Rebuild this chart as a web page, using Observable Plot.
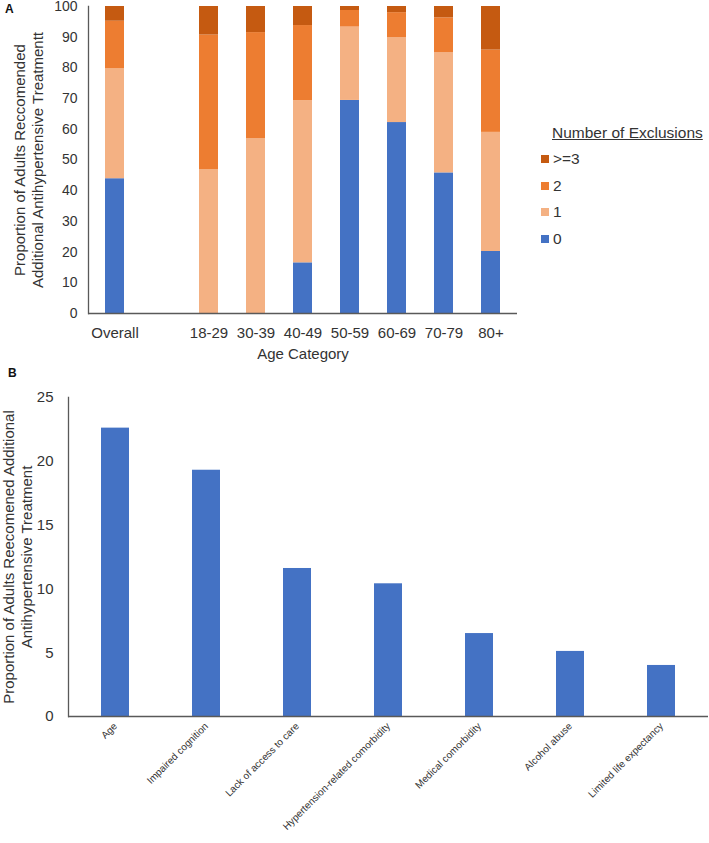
<!DOCTYPE html>
<html>
<head>
<meta charset="utf-8">
<script src="https://cdn.jsdelivr.net/npm/d3@7"></script>
<script src="https://cdn.jsdelivr.net/npm/@observablehq/plot@0.6"></script>
<style>
  html, body { margin: 0; padding: 0; background: #fff; }
  body { font-family: "Liberation Sans", Arial, sans-serif; color: #333; }
  #wrap { position: relative; width: 709px; height: 843px; overflow: hidden; }
  .panel { position: absolute; left: 0; }
  .panel svg { background: transparent !important; overflow: visible; }
  .tag { position: absolute; font-weight: bold; font-size: 12px; color: #111; }
  #legend { position: absolute; left: 541px; top: 124px; font-size: 15.5px; color: #333; }
  #legend .title { position: absolute; left: 11px; top: 0; white-space: nowrap; text-decoration: underline; }
  #legend .item { position: absolute; left: 0; white-space: nowrap; line-height: 18px; }
  #legend .sw { display: inline-block; width: 8px; height: 8px; margin-right: 4px; vertical-align: 1px; }
</style>
</head>
<body>
<div id="wrap">
  <div class="panel" id="panelA" style="top:0"></div>
  <div class="panel" id="panelB" style="top:365px"></div>
  <div class="tag" style="left:5px; top:2px;">A</div>
  <div class="tag" style="left:8px; top:366px;">B</div>
  <div id="legend"></div>
</div>
<script>
// ---------- Panel A data ----------
const ageGroups = ["Overall", "18-29", "30-39", "40-49", "50-59", "60-69", "70-79", "80+"];
const xDomainA = ["Overall", " ", "18-29", "30-39", "40-49", "50-59", "60-69", "70-79", "80+"];
const exclusionKeys = ["0", "1", "2", ">=3"];
const exclusionColors = ["#4472C4", "#F4B183", "#ED7D31", "#C55A11"];
const excl0 = [43.9, 0, 0, 16.5, 69.4, 62.2, 45.8, 20.2];
const excl1 = [35.9, 46.8, 56.9, 52.8, 23.9, 27.6, 39.2, 38.8];
const excl2 = [15.4, 43.9, 34.6, 24.5, 5.4, 8.2, 11.3, 26.8];
const excl3 = [4.8, 9.3, 8.5, 6.2, 1.3, 2.0, 3.7, 14.2];
const yTicksA = [0, 10, 20, 30, 40, 50, 60, 70, 80, 90, 100];
const yTitleA = "Proportion of Adults Reccomended\nAdditional Antihypertensive Treatmentt";
const xTitleA = "Age Category";
const legendTitle = "Number of Exclusions";

// ---------- Panel B data ----------
const reasons = ["Age", "Impaired cognition", "Lack of access to care", "Hypertension-related comorbidity", "Medical comorbidity", "Alcohol abuse", "Limited life expectancy"];
const reasonValues = [22.6, 19.3, 11.6, 10.4, 6.5, 5.1, 4.0];
const yTicksB = [0, 5, 10, 15, 20, 25];
const yTitleB = "Proportion of Adults Reecomened Additional\nAntihypertensive Treatment";

const FONT = "Liberation Sans, Arial, sans-serif";
const AXIS = "#595959";

// Build long table for stacked bars
const seriesA = [excl0, excl1, excl2, excl3];
const rowsA = [];
exclusionKeys.forEach((k, i) => {
  ageGroups.forEach((g, j) => rowsA.push({group: g, key: k, value: seriesA[i][j]}));
});

const plotA = Plot.plot({
  width: 709,
  height: 365,
  marginLeft: 88,
  marginRight: 192,
  marginTop: 6,
  marginBottom: 52,
  style: {fontFamily: FONT, fontSize: "15px", color: "#333", background: "transparent"},
  x: {type: "band", domain: xDomainA, paddingInner: 0.6, paddingOuter: 0.3, label: null},
  y: {domain: [0, 100], label: null},
  color: {domain: exclusionKeys, range: exclusionColors},
  marks: [
    Plot.barY(rowsA, {x: "group", y: "value", fill: "key", order: exclusionKeys}),
    Plot.axisY({ticks: yTicksA, tickSize: 0, tickPadding: 11, fontSize: 14, label: null}),
    Plot.axisX({tickSize: 0, tickPadding: 14, fontSize: 15, label: null}),
    Plot.ruleY([0], {stroke: AXIS, strokeWidth: 1.3}),
    Plot.frame({anchor: "left", stroke: AXIS, strokeWidth: 1.3}),
    Plot.text([xTitleA], {frameAnchor: "bottom", dy: 45, fontSize: 15, fill: "#333"}),
    Plot.text([yTitleA], {frameAnchor: "left", textAnchor: "middle", lineAnchor: "middle", rotate: -90, dx: -60, fontSize: 15, lineHeight: 1.2, fill: "#333"})
  ]
});
document.getElementById("panelA").appendChild(plotA);

// Legend (HTML)
const legend = document.getElementById("legend");
const t = document.createElement("div");
t.className = "title"; t.textContent = legendTitle;
legend.appendChild(t);
const legendOrder = exclusionKeys.slice().reverse();
legendOrder.forEach((k, i) => {
  const it = document.createElement("div");
  it.className = "item";
  it.style.top = (26 + i * 26.7) + "px";
  const sw = document.createElement("span");
  sw.className = "sw";
  sw.style.background = exclusionColors[exclusionKeys.indexOf(k)];
  it.appendChild(sw);
  it.appendChild(document.createTextNode(k));
  legend.appendChild(it);
});

// ---------- Panel B ----------
const rowsB = reasons.map((r, i) => ({reason: r, value: reasonValues[i]}));
const plotB = Plot.plot({
  width: 709,
  height: 478,
  marginLeft: 68,
  marginRight: 1,
  marginTop: 32,
  marginBottom: 127,
  style: {fontFamily: FONT, fontSize: "15px", color: "#333", background: "transparent"},
  x: {type: "band", domain: reasons, paddingInner: 0.69, paddingOuter: 0.345, label: null},
  y: {domain: [0, 25], label: null},
  marks: [
    Plot.barY(rowsB, {x: "reason", y: "value", fill: "#4472C4"}),
    Plot.axisY({ticks: yTicksB, tickSize: 0, tickPadding: 15, fontSize: 15, label: null}),
    Plot.axisX({tickSize: 0, tickPadding: 8, tickRotate: -45, fontSize: 10, label: null}),
    Plot.ruleY([0], {stroke: AXIS, strokeWidth: 1.3}),
    Plot.frame({anchor: "left", stroke: AXIS, strokeWidth: 1.3}),
    Plot.text([yTitleB], {frameAnchor: "left", textAnchor: "middle", lineAnchor: "middle", rotate: -90, dx: -51, fontSize: 15, lineHeight: 1.2, fill: "#333"})
  ]
});
document.getElementById("panelB").appendChild(plotB);
</script>
</body>
</html>
